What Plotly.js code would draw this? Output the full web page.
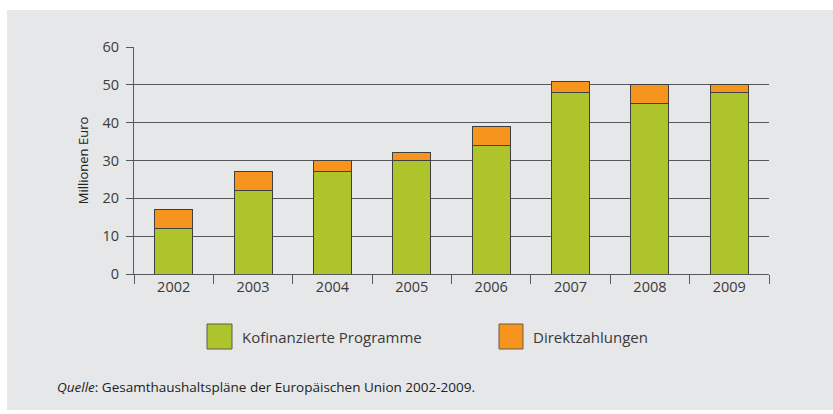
<!DOCTYPE html>
<html>
<head>
<meta charset="utf-8">
<script src="https://cdn.plot.ly/plotly-3.0.1.min.js"></script>
<style>
  html, body { margin: 0; padding: 0; background: #ffffff; }
  #chart { width: 833px; height: 414px; }
</style>
</head>
<body>
<div id="chart"></div>
<script>
// ---- Data ----
var years = ["2002", "2003", "2004", "2005", "2006", "2007", "2008", "2009"];
var kofinanziert = [12, 22, 27, 30, 34, 48, 45, 48];
var direkt = [5, 5, 3, 2, 5, 3, 5, 2];
var seriesNames = ["Kofinanzierte Programme", "Direktzahlungen"];
var yTicks = [0, 10, 20, 30, 40, 50, 60];
var yTitle = "Millionen Euro";
var sourceText = "<i>Quelle</i>: Gesamthaushaltspläne der Europäischen Union 2002-2009.";

// ---- Layout geometry (pixels) ----
var W = 833, H = 414;
var plotL = 134, plotR = 769, plotT = 47, plotB = 274;
var pw = plotR - plotL, ph = plotB - plotT;
function px(x) { return (x - plotL) / pw; }
function py(y) { return (plotB - y) / ph; }

var green = "#adc42c", orange = "#f7941d", outline = "#3f4040";
var axisCol = "#58595b", textCol = "#3a3a3a";
var font = "Open Sans, Lato, sans-serif";

var traces = [
  { type: "bar", x: years, y: kofinanziert, name: seriesNames[0], width: 0.48,
    marker: { color: green, line: { color: outline, width: 1 } }, hoverinfo: "x+y+name" },
  { type: "bar", x: years, y: direkt, name: seriesNames[1], width: 0.48,
    marker: { color: orange, line: { color: outline, width: 1 } }, hoverinfo: "x+y+name" }
];

var shapes = [
  // grey panel background
  { type: "rect", xref: "paper", yref: "paper", layer: "below",
    x0: px(7), x1: px(833), y0: py(410), y1: py(10),
    fillcolor: "#e6e7e8", line: { width: 0 } },
  // legend swatches
  { type: "rect", xref: "paper", yref: "paper",
    x0: px(207), x1: px(232), y0: py(349), y1: py(324),
    fillcolor: green, line: { color: "#5a5a4a", width: 1 } },
  { type: "rect", xref: "paper", yref: "paper",
    x0: px(499), x1: px(523), y0: py(349), y1: py(324),
    fillcolor: orange, line: { color: "#6a5a4a", width: 1 } }
];

var annotations = [
  { xref: "paper", yref: "paper", x: px(240), y: py(337), xanchor: "left", yanchor: "middle",
    text: seriesNames[0], showarrow: false, font: { family: font, size: 15, color: textCol } },
  { xref: "paper", yref: "paper", x: px(531), y: py(337), xanchor: "left", yanchor: "middle",
    text: seriesNames[1], showarrow: false, font: { family: font, size: 15, color: textCol } },
  { xref: "paper", yref: "paper", x: px(55), y: py(387), xanchor: "left", yanchor: "middle",
    text: sourceText, showarrow: false, font: { family: font, size: 13.5, color: "#222222" } }
];

var layout = {
  width: W, height: H,
  margin: { l: plotL, r: W - plotR, t: plotT, b: H - plotB, pad: 0 },
  paper_bgcolor: "rgba(0,0,0,0)",
  plot_bgcolor: "rgba(0,0,0,0)",
  barmode: "stack",
  showlegend: false,
  font: { family: font, color: textCol },
  xaxis: {
    type: "category",
    tickson: "boundaries",
    ticks: "outside", ticklen: 9, tickwidth: 1, tickcolor: axisCol,
    showline: true, linecolor: axisCol, linewidth: 1,
    showgrid: false, zeroline: false,
    tickfont: { family: font, size: 14.5, color: textCol },
    fixedrange: true
  },
  yaxis: {
    range: [0, 60],
    tickvals: yTicks,
    ticks: "outside", ticklen: 7, tickwidth: 1, tickcolor: axisCol,
    showline: true, linecolor: axisCol, linewidth: 1,
    showgrid: true, gridcolor: axisCol, gridwidth: 1,
    zeroline: false,
    ticklabelstandoff: 4,
    tickfont: { family: font, size: 14.5, color: textCol },
    title: { text: yTitle, font: { family: font, size: 13, color: "#222222" }, standoff: 10 },
    fixedrange: true
  },
  shapes: shapes,
  annotations: annotations
};

Plotly.newPlot("chart", traces, layout, { displayModeBar: false, staticPlot: true });
</script>
</body>
</html>
